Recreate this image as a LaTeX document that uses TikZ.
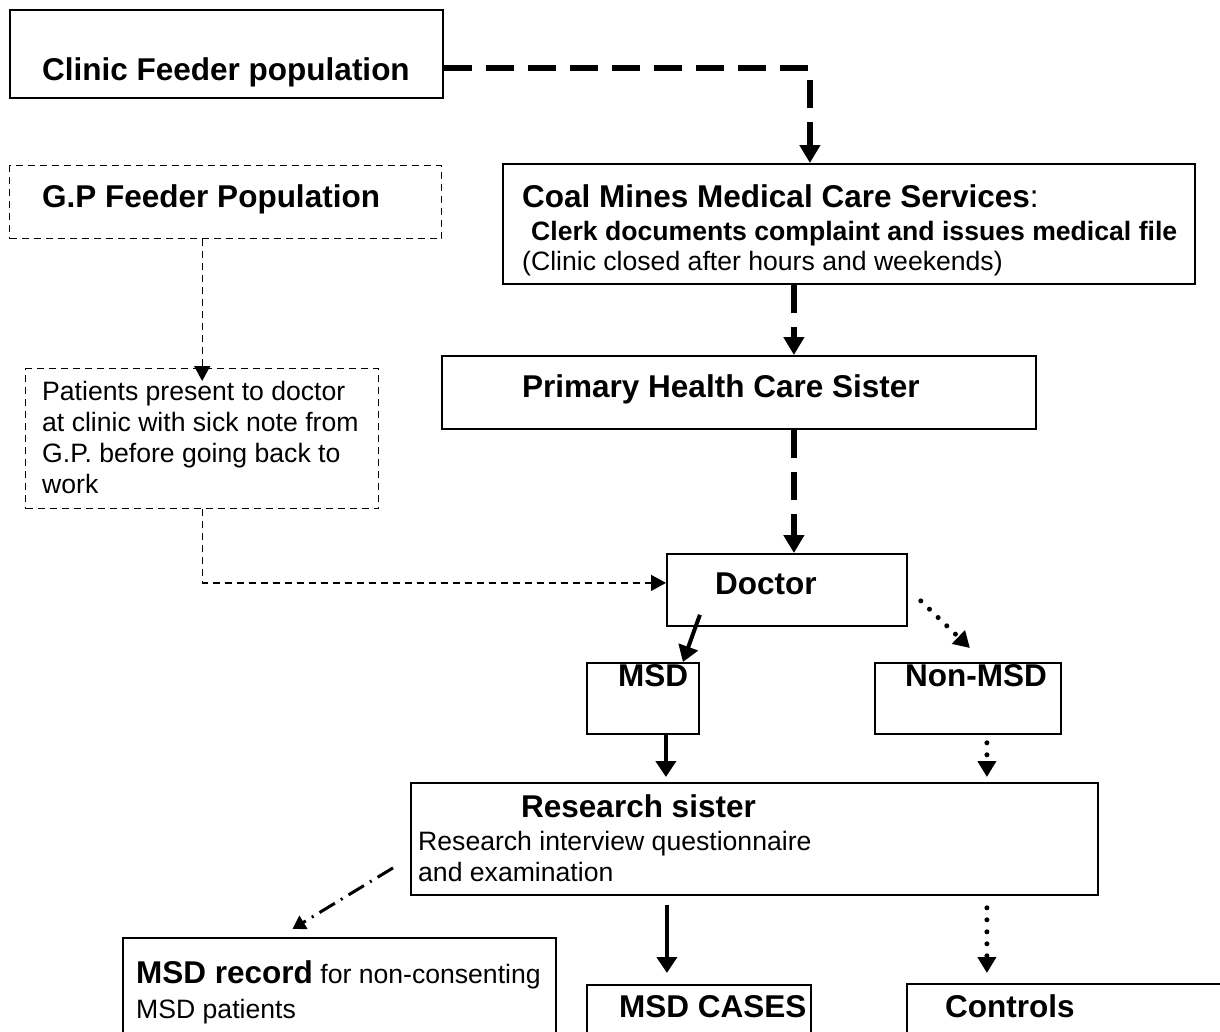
\documentclass[tikz,border=0pt]{standalone}
\usepackage{fontspec}
\setmainfont{Liberation Sans}
\usetikzlibrary{arrows.meta}

\begin{document}
\begin{tikzpicture}[x=1pt,y=-1pt,
  box/.style={draw,line width=1.8pt,anchor=north west,inner sep=0pt},
  gpbox/.style={box,line width=1.4pt,dash pattern=on 7pt off 5pt},
  big/.style={anchor=base west,inner sep=0pt,font=\fontsize{31.5}{36}\selectfont\bfseries},
  mid/.style={anchor=base west,inner sep=0pt,font=\fontsize{26.6}{32}\selectfont\bfseries},
  small/.style={anchor=base west,inner sep=0pt,font=\fontsize{26.6}{32}\selectfont},
  clinicflow/.style={line width=5.5pt,dash pattern=on 28pt off 14pt,-{Triangle[length=18pt,width=20pt]}},
  gpflow/.style={line width=1.4pt,dash pattern=on 7pt off 5pt,-{Triangle[length=15pt,width=16pt]}},
  msdflow/.style={line width=4pt,-{Triangle[length=16pt,width=20pt]}},
  ctrlflow/.style={line width=5pt,line cap=round,dash pattern=on 0pt off 12pt,-{Triangle[length=16pt,width=18pt]}},
  refusedflow/.style={line width=3pt,dash pattern=on 18pt off 7pt on 2pt off 7pt,-{Triangle[length=13pt,width=15pt]}}]
\useasboundingbox (0,0) rectangle (1220,1031);
\clip (0,0) rectangle (1220,1031);
% boxes
\node[box,minimum width=433pt,minimum height=88pt] (clinic) at (9,9) {};
\node[gpbox,minimum width=432pt,minimum height=73pt] (gp) at (9,165) {};
\node[box,minimum width=692pt,minimum height=120pt] (coal) at (502,163) {};
\node[box,minimum width=594pt,minimum height=73pt] (primary) at (441,355) {};
\node[gpbox,minimum width=353pt,minimum height=140pt] (gpnote) at (25,368) {};
\node[box,minimum width=240pt,minimum height=72pt] (doctor) at (666,553) {};
\node[box,minimum width=112pt,minimum height=71pt] (msd) at (586,662) {};
\node[box,minimum width=186pt,minimum height=71pt] (nonmsd) at (874,662) {};
\node[box,minimum width=687pt,minimum height=112pt] (research) at (410,782) {};
\node[box,minimum width=433pt,minimum height=120pt] (record) at (122,937) {};
\node[box,minimum width=224pt,minimum height=80pt] (cases) at (586,984) {};
\node[box,minimum width=330pt,minimum height=80pt] (controls) at (906,983) {};
% texts
\node[big] (clinictxt) at (42,80) {Clinic Feeder population};
\node[big] (gptxt) at (42,207) {G.P Feeder Population};
\node[big] (coaltxt) at (522,207) {Coal Mines Medical Care Services{\mdseries:}};
\node[mid] (clerktxt) at (531,240) {Clerk documents complaint and issues medical file};
\node[small] (closedtxt) at (522,270) {(Clinic closed after hours and weekends)};
\node[big] (primarytxt) at (522,397) {Primary Health Care Sister};
\foreach \t [count=\i from 0] in {Patients present to doctor,at clinic with sick note from,G.P. before going back to,work}
  \node[small] (note\i) at (42,400+31*\i) {\t};
\node[big] (doctortxt) at (715,594) {Doctor};
\node[big] (msdtxt) at (618,686) {MSD};
\node[big] (nonmsdtxt) at (905,686) {Non-MSD};
\node[big] (researchtxt) at (521,817) {Research sister};
\node[small] (interviewtxt) at (418,850) {Research interview questionnaire};
\node[small] (examtxt) at (418,881) {and examination};
\node[small] (recordtxt) at (136,983) {{\fontsize{31.5}{36}\selectfont\bfseries MSD record} for non-consenting};
\node[small] (patientstxt) at (136,1018) {MSD patients};
\node[big] (casestxt) at (619,1017) {MSD CASES};
\node[big] (controlstxt) at (945,1017) {Controls};
% connectors
\draw[clinicflow] ([yshift=-14pt]clinic.east) -| ([xshift=-39pt]coal.north);
\draw[clinicflow] ([xshift=-55pt]coal.south) -- ([xshift=-55pt]coal.south |- primary.north);
\draw[clinicflow] ([xshift=55pt]primary.south) -- ([xshift=55pt]primary.south |- doctor.north);
\draw[gpflow,shorten >=-13pt] (gpnote.north |- gp.south) -- (gpnote.north);
\draw[gpflow] (gpnote.south) |- ([yshift=7pt]doctor.west);
\draw[msdflow] ([xshift=-87pt,yshift=12pt]doctor.south) -- ([xshift=40pt]msd.north);
\draw[ctrlflow] ([xshift=13pt,yshift=-11pt]doctor.east) -- ([xshift=2pt,yshift=14pt]nonmsd.north);
\draw[msdflow] ([xshift=23pt]msd.south) -- ([xshift=23pt,yshift=5pt]msd.south |- research.north);
\draw[ctrlflow] ([xshift=19pt,yshift=-8pt]nonmsd.south) -- ([xshift=19pt,yshift=5pt]nonmsd.south |- research.north);
\draw[refusedflow] ([xshift=-17pt,yshift=-29pt]research.west) -- ([xshift=-47pt,yshift=8pt]record.north);
\draw[msdflow] ([xshift=-32pt,yshift=-9pt]cases.north |- research.south) -- ([xshift=-32pt,yshift=11pt]cases.north);
\draw[ctrlflow] ([xshift=-85pt,yshift=-12pt]controls.north |- research.south) -- ([xshift=-85pt,yshift=10pt]controls.north);
\end{tikzpicture}
\end{document}
